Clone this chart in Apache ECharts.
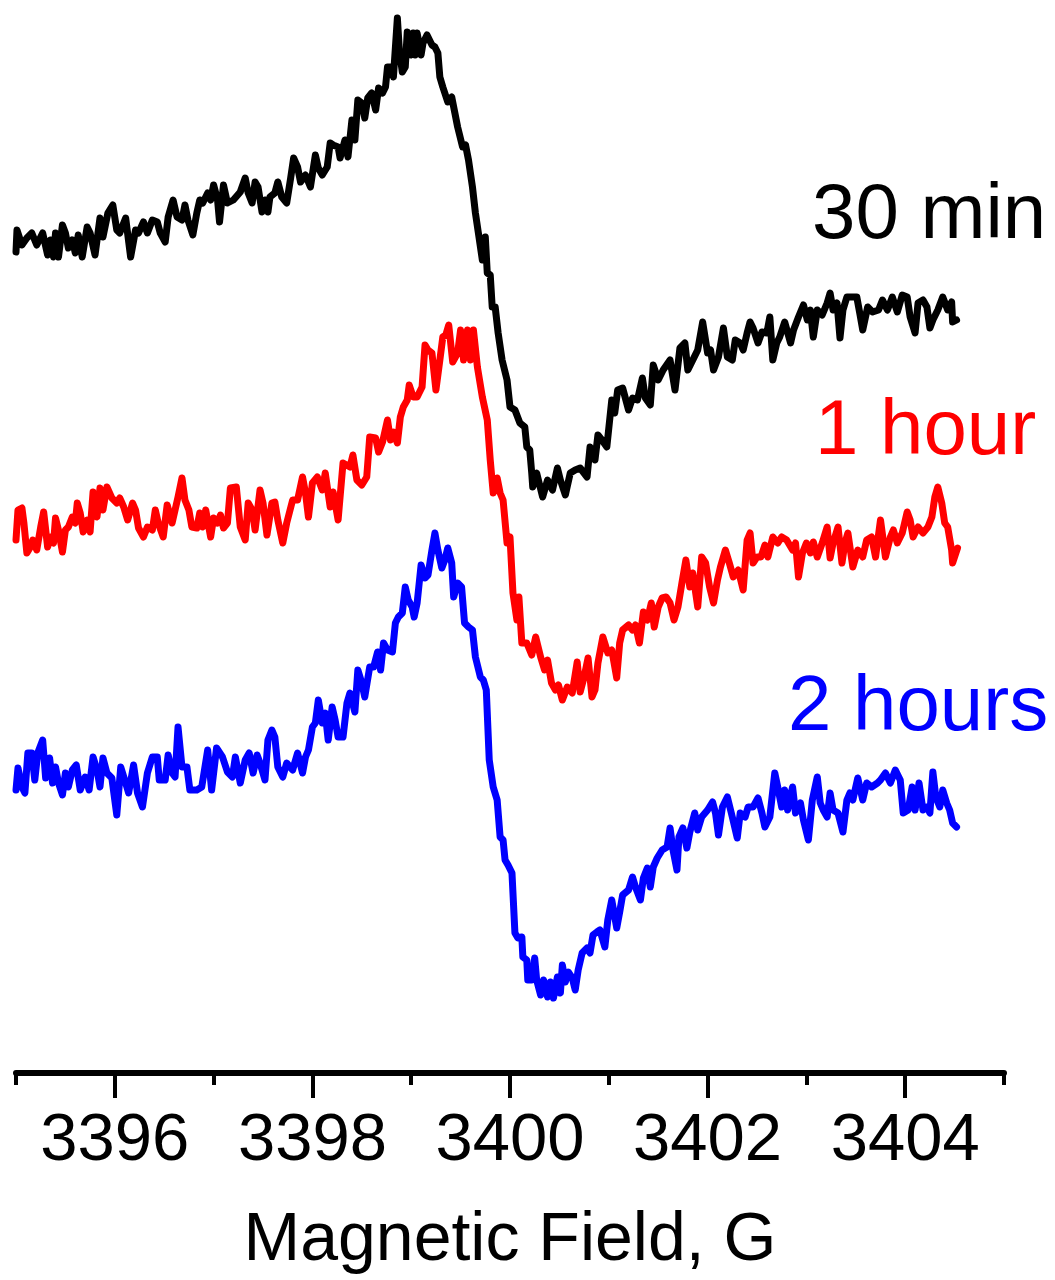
<!DOCTYPE html>
<html><head><meta charset="utf-8">
<script src="https://cdn.jsdelivr.net/npm/echarts@6/dist/echarts.min.js"></script>
<style>html,body{margin:0;padding:0;background:#fff}#c{width:1055px;height:1280px}</style>
</head><body><div id="c"></div>
<script>
// Magnetic field (G) tick labels
const fieldTicks = [3396, 3398, 3400, 3402, 3404];
const seriesNames = ['30 min', '1 hour', '2 hours'];
const seriesColors = ['#000000', '#ff0000', '#0000ff'];

// EPR spectra: [field (G), intensity + stacking offset (a.u.)]
const trace30min = [[3395.00,821],[3395.01,843],[3395.06,828],[3395.11,835],[3395.16,840],[3395.21,828],[3395.27,840],[3395.32,818],[3395.35,833],[3395.38,816],[3395.40,840],[3395.43,816],[3395.47,848],[3395.50,840],[3395.53,825],[3395.57,833],[3395.60,820],[3395.63,838],[3395.67,816],[3395.72,846],[3395.75,840],[3395.80,818],[3395.85,855],[3395.88,836],[3395.93,860],[3395.98,868],[3396.02,843],[3396.05,840],[3396.11,855],[3396.16,816],[3396.21,843],[3396.24,840],[3396.29,851],[3396.33,840],[3396.38,853],[3396.43,851],[3396.46,840],[3396.51,831],[3396.54,856],[3396.59,873],[3396.63,856],[3396.68,853],[3396.71,868],[3396.74,853],[3396.79,838],[3396.83,860],[3396.86,873],[3396.89,870],[3396.94,880],[3396.97,873],[3397.00,888],[3397.04,873],[3397.06,851],[3397.10,888],[3397.14,870],[3397.20,873],[3397.27,881],[3397.32,895],[3397.35,880],[3397.39,870],[3397.42,891],[3397.45,886],[3397.49,861],[3397.52,873],[3397.55,861],[3397.57,876],[3397.62,880],[3397.65,891],[3397.69,876],[3397.74,870],[3397.78,895],[3397.81,915],[3397.85,906],[3397.88,891],[3397.93,898],[3397.98,886],[3398.03,918],[3398.06,905],[3398.10,898],[3398.15,906],[3398.18,930],[3398.21,928],[3398.26,926],[3398.28,915],[3398.33,933],[3398.36,916],[3398.40,953],[3398.43,933],[3398.46,973],[3398.50,970],[3398.53,955],[3398.56,975],[3398.60,980],[3398.64,963],[3398.67,985],[3398.71,980],[3398.74,986],[3398.76,1006],[3398.79,1006],[3398.82,996],[3398.86,1055],[3398.88,1023],[3398.91,1001],[3398.94,1006],[3398.96,1041],[3399.00,1018],[3399.02,1040],[3399.04,1018],[3399.06,1040],[3399.10,1018],[3399.12,1030],[3399.16,1038],[3399.21,1028],[3399.24,1026],[3399.27,1020],[3399.29,996],[3399.32,986],[3399.37,971],[3399.41,976],[3399.44,961],[3399.47,946],[3399.52,926],[3399.55,928],[3399.58,913],[3399.62,886],[3399.65,860],[3399.68,840],[3399.72,813],[3399.75,836],[3399.77,800],[3399.80,798],[3399.82,766],[3399.85,766],[3399.88,740],[3399.92,713],[3399.97,693],[3400.00,666],[3400.05,663],[3400.10,650],[3400.15,646],[3400.17,626],[3400.20,623],[3400.22,600],[3400.23,586],[3400.27,600],[3400.33,576],[3400.38,593],[3400.43,583],[3400.48,605],[3400.51,593],[3400.56,578],[3400.61,600],[3400.66,603],[3400.71,605],[3400.78,596],[3400.81,626],[3400.86,613],[3400.89,638],[3400.93,633],[3400.98,626],[3401.03,673],[3401.06,660],[3401.09,683],[3401.14,685],[3401.20,663],[3401.24,675],[3401.29,673],[3401.34,695],[3401.37,675],[3401.42,668],[3401.45,708],[3401.50,693],[3401.55,703],[3401.62,713],[3401.67,683],[3401.72,725],[3401.77,730],[3401.80,703],[3401.85,713],[3401.90,723],[3401.95,751],[3402.00,720],[3402.03,723],[3402.06,703],[3402.11,716],[3402.16,745],[3402.20,716],[3402.25,713],[3402.28,733],[3402.33,730],[3402.36,723],[3402.40,740],[3402.43,751],[3402.46,745],[3402.51,730],[3402.55,741],[3402.60,740],[3402.63,756],[3402.66,713],[3402.70,730],[3402.73,736],[3402.78,751],[3402.84,730],[3402.87,743],[3402.92,756],[3402.97,768],[3403.01,753],[3403.04,763],[3403.07,736],[3403.11,763],[3403.16,758],[3403.21,770],[3403.24,780],[3403.27,763],[3403.31,770],[3403.34,735],[3403.37,763],[3403.41,776],[3403.46,776],[3403.51,776],[3403.54,760],[3403.57,743],[3403.62,766],[3403.67,761],[3403.73,763],[3403.77,773],[3403.82,763],[3403.87,776],[3403.92,761],[3403.97,778],[3404.02,776],[3404.05,756],[3404.10,740],[3404.13,770],[3404.18,773],[3404.22,766],[3404.25,745],[3404.28,753],[3404.33,763],[3404.38,776],[3404.43,763],[3404.47,771],[3404.48,751],[3404.52,753]];

const trace1hour = [[3395.00,533],[3395.02,563],[3395.06,565],[3395.08,550],[3395.11,520],[3395.14,525],[3395.17,533],[3395.21,523],[3395.25,546],[3395.28,561],[3395.32,526],[3395.35,536],[3395.38,530],[3395.40,555],[3395.43,543],[3395.47,521],[3395.50,543],[3395.53,546],[3395.57,556],[3395.60,550],[3395.62,570],[3395.65,560],[3395.68,541],[3395.72,553],[3395.75,541],[3395.78,581],[3395.82,556],[3395.85,585],[3395.88,563],[3395.92,586],[3395.97,575],[3396.02,570],[3396.05,575],[3396.09,566],[3396.13,553],[3396.18,570],[3396.21,563],[3396.24,545],[3396.29,536],[3396.33,546],[3396.38,543],[3396.41,563],[3396.44,550],[3396.49,536],[3396.53,568],[3396.58,550],[3396.61,563],[3396.64,576],[3396.68,595],[3396.71,573],[3396.75,563],[3396.78,546],[3396.83,545],[3396.86,560],[3396.89,546],[3396.92,563],[3396.97,536],[3397.00,555],[3397.04,550],[3397.07,558],[3397.10,545],[3397.14,550],[3397.17,585],[3397.23,586],[3397.27,546],[3397.32,533],[3397.35,570],[3397.39,563],[3397.42,543],[3397.47,583],[3397.50,570],[3397.54,538],[3397.59,570],[3397.62,571],[3397.65,553],[3397.70,530],[3397.74,550],[3397.80,573],[3397.85,573],[3397.90,596],[3397.93,580],[3397.96,556],[3398.00,590],[3398.05,596],[3398.10,583],[3398.13,600],[3398.18,566],[3398.21,581],[3398.26,553],[3398.31,610],[3398.38,606],[3398.41,618],[3398.45,593],[3398.50,588],[3398.55,596],[3398.58,636],[3398.64,635],[3398.67,621],[3398.71,631],[3398.76,653],[3398.79,633],[3398.82,641],[3398.86,630],[3398.89,656],[3398.92,666],[3398.96,673],[3398.98,688],[3399.02,676],[3399.06,676],[3399.11,686],[3399.14,728],[3399.17,723],[3399.21,720],[3399.25,683],[3399.29,713],[3399.32,736],[3399.35,738],[3399.38,748],[3399.42,711],[3399.47,720],[3399.50,743],[3399.53,713],[3399.57,743],[3399.60,713],[3399.63,743],[3399.67,706],[3399.72,676],[3399.77,653],[3399.80,613],[3399.83,580],[3399.87,595],[3399.90,580],[3399.93,573],[3399.97,530],[3400.00,536],[3400.03,480],[3400.07,453],[3400.09,476],[3400.12,430],[3400.17,430],[3400.22,418],[3400.26,436],[3400.31,416],[3400.35,403],[3400.38,413],[3400.42,390],[3400.46,383],[3400.49,388],[3400.53,373],[3400.58,386],[3400.63,380],[3400.68,411],[3400.71,381],[3400.75,396],[3400.79,415],[3400.83,376],[3400.86,383],[3400.89,410],[3400.94,436],[3400.99,420],[3401.03,423],[3401.08,395],[3401.11,430],[3401.14,443],[3401.20,448],[3401.24,443],[3401.27,448],[3401.31,430],[3401.35,461],[3401.39,453],[3401.43,470],[3401.46,446],[3401.50,466],[3401.54,475],[3401.58,476],[3401.62,470],[3401.66,453],[3401.70,466],[3401.74,490],[3401.78,513],[3401.82,486],[3401.85,500],[3401.90,466],[3401.94,516],[3401.98,510],[3402.02,486],[3402.06,470],[3402.10,493],[3402.13,506],[3402.18,523],[3402.22,510],[3402.26,496],[3402.31,503],[3402.36,483],[3402.40,533],[3402.43,540],[3402.46,510],[3402.50,516],[3402.54,516],[3402.58,528],[3402.61,516],[3402.66,536],[3402.71,530],[3402.75,536],[3402.80,533],[3402.86,523],[3402.89,530],[3402.92,496],[3402.96,520],[3403.00,530],[3403.04,520],[3403.07,531],[3403.11,516],[3403.16,530],[3403.21,546],[3403.24,515],[3403.27,530],[3403.32,546],[3403.36,510],[3403.39,530],[3403.42,540],[3403.47,506],[3403.52,523],[3403.57,516],[3403.61,533],[3403.66,536],[3403.70,516],[3403.75,553],[3403.80,516],[3403.85,536],[3403.88,543],[3403.92,530],[3403.97,540],[3404.02,561],[3404.05,553],[3404.08,536],[3404.13,546],[3404.18,540],[3404.23,546],[3404.27,556],[3404.30,576],[3404.33,586],[3404.37,570],[3404.40,550],[3404.43,546],[3404.47,523],[3404.48,510],[3404.53,525]];

const trace2hours = [[3395.00,283],[3395.02,305],[3395.06,286],[3395.09,280],[3395.12,320],[3395.16,320],[3395.19,293],[3395.22,320],[3395.27,333],[3395.30,295],[3395.34,315],[3395.37,290],[3395.40,306],[3395.43,290],[3395.47,278],[3395.50,300],[3395.53,286],[3395.57,303],[3395.61,308],[3395.65,283],[3395.70,296],[3395.74,283],[3395.78,316],[3395.82,303],[3395.85,286],[3395.88,315],[3395.92,300],[3395.97,295],[3396.02,258],[3396.06,306],[3396.11,290],[3396.14,280],[3396.19,308],[3396.23,280],[3396.28,266],[3396.33,300],[3396.38,316],[3396.43,316],[3396.45,293],[3396.51,293],[3396.54,318],[3396.58,300],[3396.61,296],[3396.64,346],[3396.68,306],[3396.73,306],[3396.76,283],[3396.83,283],[3396.88,286],[3396.94,323],[3396.98,283],[3397.03,325],[3397.09,316],[3397.14,301],[3397.19,296],[3397.22,316],[3397.27,290],[3397.32,313],[3397.36,320],[3397.40,300],[3397.44,318],[3397.47,310],[3397.52,293],[3397.55,333],[3397.59,343],[3397.62,336],[3397.65,306],[3397.70,296],[3397.74,310],[3397.80,303],[3397.85,320],[3397.90,300],[3397.93,316],[3397.96,323],[3398.00,346],[3398.03,350],[3398.06,373],[3398.10,350],[3398.13,360],[3398.16,333],[3398.20,366],[3398.23,353],[3398.26,336],[3398.31,336],[3398.35,370],[3398.38,380],[3398.43,361],[3398.46,403],[3398.50,390],[3398.53,376],[3398.58,406],[3398.62,406],[3398.66,421],[3398.69,403],[3398.72,430],[3398.76,423],[3398.81,421],[3398.84,450],[3398.87,456],[3398.91,460],[3398.94,486],[3398.97,473],[3399.01,466],[3399.03,456],[3399.06,470],[3399.10,508],[3399.14,495],[3399.17,498],[3399.21,523],[3399.24,540],[3399.27,523],[3399.31,505],[3399.34,513],[3399.37,525],[3399.41,510],[3399.43,476],[3399.47,490],[3399.51,486],[3399.54,450],[3399.58,446],[3399.62,443],[3399.65,416],[3399.70,396],[3399.73,393],[3399.76,383],[3399.79,313],[3399.83,286],[3399.87,273],[3399.90,236],[3399.93,233],[3399.95,213],[3399.98,208],[3400.02,200],[3400.05,140],[3400.08,135],[3400.12,136],[3400.13,116],[3400.17,113],[3400.18,93],[3400.22,93],[3400.25,115],[3400.27,93],[3400.31,78],[3400.34,93],[3400.38,76],[3400.41,91],[3400.44,75],[3400.48,96],[3400.51,80],[3400.53,108],[3400.56,91],[3400.59,101],[3400.63,95],[3400.66,83],[3400.69,103],[3400.73,120],[3400.78,125],[3400.81,120],[3400.84,138],[3400.88,141],[3400.91,143],[3400.96,126],[3400.99,153],[3401.03,173],[3401.08,145],[3401.11,161],[3401.14,178],[3401.20,183],[3401.24,196],[3401.27,186],[3401.32,173],[3401.35,195],[3401.39,205],[3401.42,186],[3401.45,206],[3401.49,215],[3401.54,223],[3401.59,226],[3401.62,245],[3401.65,223],[3401.69,203],[3401.71,236],[3401.75,245],[3401.79,225],[3401.82,241],[3401.87,260],[3401.90,243],[3401.94,256],[3402.00,263],[3402.05,271],[3402.08,260],[3402.11,238],[3402.15,266],[3402.20,276],[3402.25,256],[3402.30,235],[3402.33,260],[3402.38,256],[3402.41,266],[3402.46,266],[3402.51,275],[3402.55,260],[3402.58,246],[3402.63,256],[3402.68,300],[3402.71,286],[3402.75,266],[3402.78,283],[3402.81,263],[3402.86,286],[3402.89,260],[3402.94,270],[3402.97,253],[3403.02,233],[3403.06,273],[3403.11,296],[3403.14,270],[3403.17,263],[3403.21,256],[3403.24,280],[3403.27,263],[3403.32,260],[3403.37,241],[3403.41,273],[3403.44,280],[3403.47,273],[3403.52,295],[3403.57,273],[3403.61,290],[3403.66,286],[3403.72,290],[3403.75,293],[3403.80,300],[3403.85,290],[3403.90,303],[3403.95,293],[3403.98,260],[3404.03,263],[3404.07,286],[3404.10,263],[3404.14,290],[3404.18,263],[3404.22,266],[3404.25,260],[3404.28,301],[3404.31,276],[3404.35,266],[3404.38,283],[3404.42,270],[3404.45,263],[3404.48,250],[3404.52,246]];

const traces = [trace30min, trace1hour, trace2hours];

const FONT = "'Liberation Sans', Arial, Helvetica, sans-serif";
const chart = echarts.init(document.getElementById('c'), null, {renderer: 'canvas'});

const series = traces.map((d, i) => ({
  name: seriesNames[i],
  type: 'line',
  xAxisIndex: 0,
  data: d,
  symbol: 'none',
  showSymbol: false,
  silent: true,
  animation: false,
  lineStyle: {color: seriesColors[i], width: 7, join: 'round', cap: 'round'},
  itemStyle: {color: seriesColors[i]}
}));

const labelPos = [[812, 216], [815, 432], [788, 708]];
const graphic = seriesNames.map((n, i) => ({
  type: 'text',
  x: labelPos[i][0],
  y: labelPos[i][1],
  silent: true,
  style: {text: n, fill: seriesColors[i], fontSize: 78, fontFamily: FONT, align: 'left', verticalAlign: 'middle'}
}));

chart.setOption({
  animation: false,
  backgroundColor: '#ffffff',
  grid: {left: 16, right: 51, top: 0, bottom: 207},
  xAxis: [
    {
      type: 'value', position: 'bottom', min: 3395, max: 3405, interval: 1,
      axisLine: {show: true, lineStyle: {color: '#000', width: 6}},
      axisTick: {show: true, length: 12, lineStyle: {color: '#000', width: 4}},
      axisLabel: {show: false},
      splitLine: {show: false}
    },
    {
      type: 'value', position: 'bottom', min: 3395, max: 3405,
      axisLine: {show: false},
      axisTick: {show: true, customValues: fieldTicks, length: 25, lineStyle: {color: '#000', width: 4}},
      axisLabel: {show: true, customValues: fieldTicks, fontSize: 67, color: '#000', fontFamily: FONT, margin: 35,
        formatter: v => String(v)},
      splitLine: {show: false},
      name: 'Magnetic Field, G', nameLocation: 'middle', nameGap: 134,
      nameTextStyle: {fontSize: 68, color: '#000', fontFamily: FONT}
    }
  ],
  yAxis: {type: 'value', min: 0, max: 1073, show: false},
  series: series,
  graphic: graphic
});
</script>
</body></html>
